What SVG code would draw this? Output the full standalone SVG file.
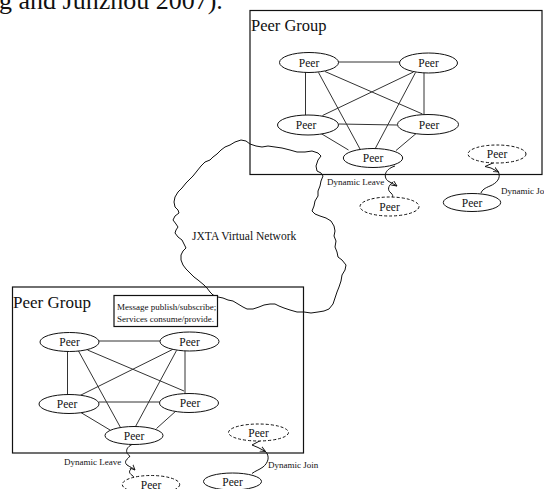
<svg xmlns="http://www.w3.org/2000/svg" width="544" height="489" viewBox="0 0 544 489">
<style>
text{font-family:"Liberation Serif","Times New Roman",serif;fill:#111}
.box{fill:none;stroke:#111;stroke-width:1.2}
.peer{fill:#fff;stroke:#111;stroke-width:1}
.dash{fill:#fff;stroke:#111;stroke-width:1;stroke-dasharray:3 2}
.pt{font-size:11.5px;text-anchor:middle}
.e{stroke:#333;stroke-width:1;fill:none}
.sq{stroke:#111;stroke-width:1;fill:none}
.lbl{font-size:9px}
</style>
<defs>
<marker id="ah" viewBox="0 0 10 10" refX="9" refY="5" markerWidth="6" markerHeight="6" orient="auto-start-reverse">
<path d="M0,1 L9,5 L0,9" fill="none" stroke="#111" stroke-width="1.5"/>
</marker>
</defs>
<rect width="544" height="489" fill="#fff"/>
<text x="-1" y="9" style="font-size:26px">g and Junzhou 2007).</text>

<g id="group-top">
<rect class="box" x="250" y="10.5" width="292" height="164"/>
<text x="251" y="31" style="font-size:16.5px">Peer Group</text>
</g>
<g id="group-bottom">
<rect class="box" x="12.5" y="287" width="291" height="166"/>
<text x="13" y="307.5" style="font-size:17px">Peer Group</text>
</g>

<g id="connectors">
<!-- top group edges -->
<line class="e" x1="338" y1="62" x2="399.5" y2="62"/>
<line class="e" x1="305.5" y1="72" x2="305.5" y2="115"/>
<line class="e" x1="424" y1="72.5" x2="424" y2="115"/>
<line class="e" x1="325" y1="71.5" x2="422.5" y2="114"/>
<line class="e" x1="413.5" y1="72" x2="322.5" y2="115.5"/>
<line class="e" x1="318.5" y1="72.5" x2="360" y2="149"/>
<line class="e" x1="415.5" y1="72.5" x2="375" y2="149"/>
<line class="e" x1="339" y1="124" x2="397" y2="125"/>
<line class="e" x1="318.5" y1="132" x2="348.5" y2="150"/>
<line class="e" x1="418.5" y1="131.5" x2="396" y2="150.5"/>
<!-- bottom group edges -->
<line class="e" x1="99" y1="341" x2="160.5" y2="341"/>
<line class="e" x1="67.5" y1="351" x2="67.5" y2="395"/>
<line class="e" x1="185" y1="350.5" x2="185" y2="394.5"/>
<line class="e" x1="87.5" y1="350" x2="184" y2="391"/>
<line class="e" x1="173.5" y1="349" x2="80" y2="395.5"/>
<line class="e" x1="78.5" y1="351" x2="120.5" y2="427.5"/>
<line class="e" x1="176.5" y1="350.5" x2="135" y2="427.5"/>
<line class="e" x1="99" y1="402" x2="159.5" y2="402"/>
<line class="e" x1="77.5" y1="410.5" x2="110" y2="430"/>
<line class="e" x1="176.5" y1="410.5" x2="156.5" y2="428.5"/>
<!-- JXTA virtual network cloud -->
<path class="sq" d="M241,140 L246,141 L250,144 L256,146 L262,147 L268,146 L275,147 L282,148 L290,150 L297,152 L305,152 L312,151 L318,153 L321,156 L318,160 L316,166 L317,171 L321,173 L323,176 L321,181 L320,186 L318,191 L318,196 L315,201 L314,206 L312,211 L315,214 L320,216 L326,218 L331,221 L334,226 L335,231 L334,236 L336,241 L335,247 L337,252 L338,257 L342,260 L346,265 L345,270 L342,275 L341,281 L339,287 L337,292 L335,298 L333,304 L329,309 L324,311 L318,312 L311,313 L304,312 L297,312 L290,310 L284,308 L279,306 L275,304 L270,304 L264,305 L259,307 L253,309 L247,309 L243,307 L238,304 L233,301 L228,300 L223,298 L218,297 L213,295 L210,292 L207,288 L204,285 L198,280 L194,277 L190,273 L186,269 L183,265 L181,260 L181,255 L183,251 L186,248 L184,244 L182,240 L178,237 L175,233 L176,230 L178,227 L176,224 L173,220 L175,216 L179,213 L178,210 L175,207 L174,202 L175,197 L178,192 L182,188 L186,183 L190,179 L193,176 L197,171 L201,166 L205,162 L210,160 L213,157 L217,154 L221,150 L225,147 L230,145 L235,142 Z"/>
<!-- dynamic leave top -->
<path class="sq" d="M395,166 C383,170 384,178 388,181 C391,183 394,184 397,186" marker-end="url(#ah)"/>
<path class="sq" d="M393,182 C388,186 387,190 391,193 C393,195 393,196 392,197"/>
<!-- dynamic join top -->
<path class="sq" d="M494,162.5 L485,166.5 L491,168 L498.5,172" marker-end="url(#ah)"/>
<path class="sq" d="M498.5,172 C501,178 497,183 490,186 C485,188 482,190 481,193"/>
<!-- dynamic leave bottom -->
<path class="sq" d="M133,444 C124,448 126,454 130,456 C128,459 123,461 127,465 C130,467 133,468 135,470" marker-end="url(#ah)"/>
<path class="sq" d="M131,469 C128,472 130,474 133,476 C134,477 134,478 133,479"/>
<!-- dynamic join bottom -->
<path class="sq" d="M261.5,440 L252,445 L258,447.5 L265.5,451.5" marker-end="url(#ah)"/>
<path class="sq" d="M266,452 C270,457 268,463 263,467 C259,470 255,471 252,473.5"/>
</g>

<g id="peer-t1"><ellipse class="peer" cx="309" cy="62.5" rx="29.5" ry="10"/><text class="pt" x="309" y="66.5">Peer</text></g>
<g id="peer-t2"><ellipse class="peer" cx="428.5" cy="63" rx="29" ry="10"/><text class="pt" x="428.5" y="67">Peer</text></g>
<g id="peer-t3"><ellipse class="peer" cx="308" cy="125" rx="30.5" ry="10"/><text class="pt" x="306" y="129">Peer</text></g>
<g id="peer-t4"><ellipse class="peer" cx="428" cy="124.5" rx="30.5" ry="10"/><text class="pt" x="429" y="128.5">Peer</text></g>
<g id="peer-t5"><ellipse class="peer" cx="373" cy="158" rx="29.7" ry="9.5"/><text class="pt" x="373" y="162">Peer</text></g>
<g id="peer-t6"><ellipse class="dash" cx="497" cy="154" rx="29" ry="9"/><text class="pt" x="497" y="158">Peer</text></g>
<g id="peer-t7"><ellipse class="dash" cx="389.5" cy="206.5" rx="29.5" ry="9.5"/><text class="pt" x="389.5" y="210.5">Peer</text></g>
<g id="peer-t8"><ellipse class="peer" cx="472" cy="202.5" rx="28.7" ry="9"/><text class="pt" x="472" y="206.5">Peer</text></g>

<g id="peer-b1"><ellipse class="peer" cx="69.5" cy="342" rx="29.5" ry="9.5"/><text class="pt" x="69.5" y="346">Peer</text></g>
<g id="peer-b2"><ellipse class="peer" cx="189.5" cy="341.5" rx="29.5" ry="9.5"/><text class="pt" x="189.5" y="345.5">Peer</text></g>
<g id="peer-b3"><ellipse class="peer" cx="69" cy="404" rx="30" ry="9.5"/><text class="pt" x="67" y="408">Peer</text></g>
<g id="peer-b4"><ellipse class="peer" cx="189" cy="403" rx="29.5" ry="9.5"/><text class="pt" x="190" y="407">Peer</text></g>
<g id="peer-b5"><ellipse class="peer" cx="134" cy="435.5" rx="29" ry="9"/><text class="pt" x="134" y="439.5">Peer</text></g>
<g id="peer-b6"><ellipse class="dash" cx="258.5" cy="432.5" rx="30" ry="8.5"/><text class="pt" x="258.5" y="436.5">Peer</text></g>
<g id="peer-b7"><ellipse class="dash" cx="151" cy="484.5" rx="28.7" ry="9"/><text class="pt" x="151" y="489">Peer</text></g>
<g id="peer-b8"><ellipse class="peer" cx="232.5" cy="481.5" rx="29" ry="8.5"/><text class="pt" x="232.5" y="485.5">Peer</text></g>

<g id="msg-box">
<rect x="114" y="295.5" width="103.5" height="31" fill="#fff" stroke="#111" stroke-width="1.2"/>
<text class="lbl" x="117" y="309.5">Message publish/subscribe;</text>
<text class="lbl" x="117" y="321.5">Services consume/provide.</text>
</g>

<g id="labels">
<text x="192" y="239.5" style="font-size:11.5px">JXTA Virtual Network</text>
<text class="lbl" x="327" y="185">Dynamic Leave</text>
<text class="lbl" x="501" y="193.5">Dynamic Joi</text>
<text class="lbl" x="64" y="464.5">Dynamic Leave</text>
<text class="lbl" x="268" y="468">Dynamic Join</text>
</g>
</svg>
